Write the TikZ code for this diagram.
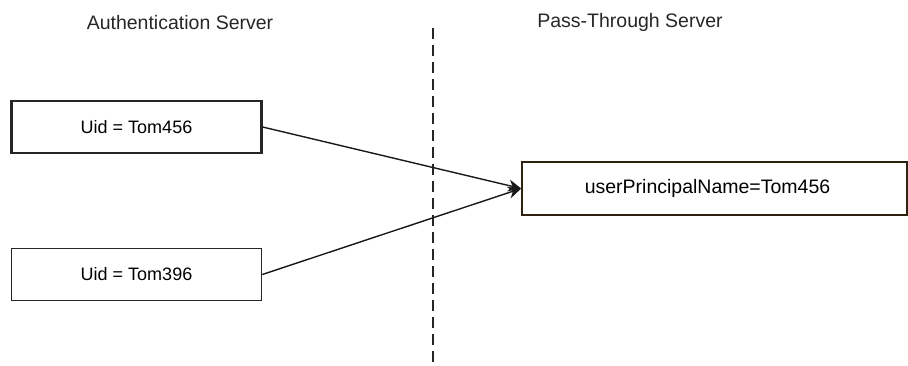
\documentclass[tikz,border=0pt]{standalone}
\usepackage{fontspec}
\setmainfont{Liberation Sans}
\usetikzlibrary{arrows.meta}

\tikzset{
  idbox/.style={draw=black!85, line width=1.6pt, minimum width=250pt, minimum height=52pt, inner sep=0pt, font=\fontsize{18}{22}\selectfont},
  upnbox/.style={draw=black!75!brown, line width=1.6pt, minimum width=385pt, minimum height=53pt, inner sep=0pt, font=\fontsize{19.5}{23}\selectfont},
  heading/.style={font=\fontsize{19.5}{23}\selectfont, text=black!85},
  link/.style={draw=black!90, line width=1.4pt, -{Stealth[length=13pt,width=12pt]}},
  divider/.style={draw=black!85, line width=1.6pt, dash pattern=on 11pt off 6pt}
}

\begin{document}
\begin{tikzpicture}[x=1pt, y=-1pt]
    \useasboundingbox (0,0) rectangle (908,366);

    % server headings
    \node[heading] (auth) at (180,23) {Authentication Server};
    \node[heading] (pass) at (630,22) {Pass-Through Server};

    % divider between the two servers
    \coordinate (divtop) at (433,28);
    \coordinate (divbot) at (433,366);
    \draw[divider] (divtop) -- (divbot);

    % entries
    \node[idbox, line width=2.2pt] (uid1) at (136.5,127) {Uid = Tom456};
    \node[idbox] (uid2) at (136.5,274.5) {Uid = Tom396};
    \node[upnbox] (upn) at (714.5,188.5) {\hspace*{-14pt}userPrincipalName=Tom456};

    % mapping
    \draw[link] (uid1.east) -- (upn.west);
    \draw[link] (uid2.east) -- (upn.west);
\end{tikzpicture}
\end{document}
